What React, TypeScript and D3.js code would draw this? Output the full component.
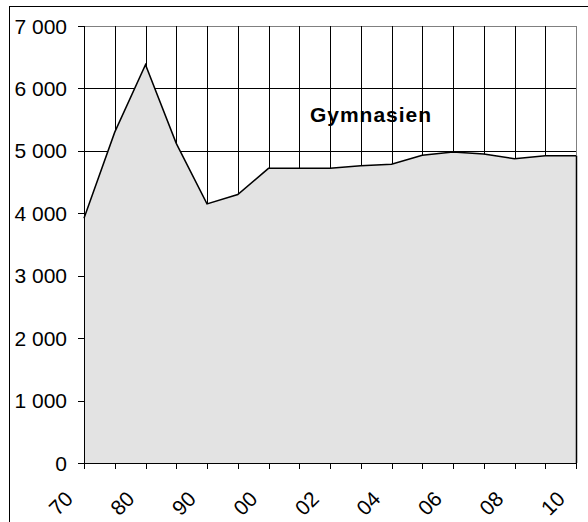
import React from "react";
import * as d3 from "d3";

const categories = ["70", "75", "80", "85", "90", "95", "00", "01", "02", "03", "04", "05", "06", "07", "08", "09", "10"];
const values = [3920, 5300, 6380, 5120, 4150, 4300, 4720, 4720, 4720, 4760, 4785, 4930, 4980, 4950, 4875, 4920, 4920];
const shownLabels = ["70", "80", "90", "00", "02", "04", "06", "08", "10"];
const yTicks = [0, 1000, 2000, 3000, 4000, 5000, 6000, 7000];
const seriesName = "Gymnasien";

const W = 588, H = 522;
const L = 84, R = 576, T = 26, B = 463;

export default function App() {
  const x = d3.scalePoint<string>().domain(categories).range([L, R]);
  const y = d3.scaleLinear().domain([0, 7000]).range([B, T]);
  const pts = categories.map((c, i) => [x(c) as number, y(values[i])] as [number, number]);
  const area = d3.area<[number, number]>().x(d => d[0]).y0(B).y1(d => d[1])(pts) || "";
  const line = d3.line<[number, number]>().x(d => d[0]).y(d => d[1])(pts) || "";
  const fmt = (v: number) => v === 0 ? "0" : d3.format(",")(v).replace(/,/g, " ");
  const font = "'Liberation Sans', Arial, sans-serif";
  return (
    <svg width={W} height={H} style={{ position: "absolute", left: 0, top: 0, background: "#fff" }} fontFamily={font}>
      <rect x={9.5} y={6.5} width={700} height={700} fill="none" stroke="#000" strokeWidth={1} />
      {yTicks.slice(1).map(v => (
        <line key={"h" + v} x1={L} x2={R} y1={Math.round(y(v)) + 0.5} y2={Math.round(y(v)) + 0.5} stroke={v === 7000 ? "#808080" : "#000"} strokeWidth={1} />
      ))}
      {categories.map(c => (
        <line key={"v" + c} x1={Math.round(x(c) as number) + 0.5} x2={Math.round(x(c) as number) + 0.5} y1={T} y2={B} stroke="#000" strokeWidth={1} />
      ))}
      <line x1={R + 0.5} x2={R + 0.5} y1={T} y2={B} stroke="#808080" />
      <path d={area} fill="#e3e3e3" />
      <path d={line} fill="none" stroke="#000" strokeWidth={1.5} />
      <line x1={R + 0.5} x2={R + 0.5} y1={y(values[values.length - 1])} y2={B} stroke="#000" strokeWidth={1.5} />
      <line x1={L + 0.5} x2={L + 0.5} y1={T} y2={B + 0.5} stroke="#000" strokeWidth={1} />
      <line x1={L} x2={R + 1} y1={B + 0.5} y2={B + 0.5} stroke="#000" strokeWidth={1} />
      {yTicks.map(v => (
        <g key={"yt" + v}>
          <line x1={L - 6} x2={L} y1={Math.round(y(v)) + 0.5} y2={Math.round(y(v)) + 0.5} stroke="#000" />
          <text x={67} y={y(v)} dy="0.36em" textAnchor="end" fontSize={21} fill="#000">{fmt(v)}</text>
        </g>
      ))}
      {categories.map(c => (
        <line key={"xt" + c} x1={Math.round(x(c) as number) + 0.5} x2={Math.round(x(c) as number) + 0.5} y1={B} y2={B + 6} stroke="#000" />
      ))}
      {categories.map(c => shownLabels.includes(c) ? (
        <text key={"xl" + c} transform={`translate(${(x(c) as number) - 15},${B + 32}) rotate(-45)`} textAnchor="end" dy="0.36em" fontSize={21} fill="#000">{c}</text>
      ) : null)}
      <text x={371} y={122} textAnchor="middle" fontSize={21} fontWeight="bold" letterSpacing={1} fill="#000">{seriesName}</text>
    </svg>
  );
}
